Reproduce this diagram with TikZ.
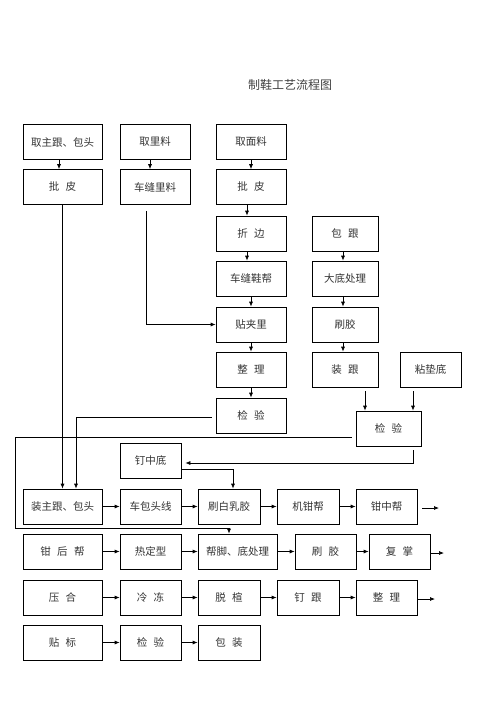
\documentclass[tikz,border=0pt]{standalone}
\usepackage{fontspec}
\setmainfont{Noto Sans CJK SC}
\usepackage{tikz}
\usetikzlibrary{arrows.meta}
\newcommand{\kg}{\hspace{0.6em}}

\begin{document}
\begin{tikzpicture}[x=1pt,y=-1pt,line width=0.7pt,>={Latex[length=5pt,width=4pt]},
  box/.style={draw,minimum height=35pt,inner sep=0pt,font=\fontsize{10.5pt}{12pt}\selectfont,text=black!80},
  wa/.style={box,minimum width=79pt},
  wb/.style={box,minimum width=70pt},
  wc/.style={box,minimum width=61pt}]
  \useasboundingbox (0,0) rectangle (496,702);
  \node[font=\fontsize{12pt}{14pt}\selectfont,text=black!75] (title) at (290,85) {制鞋工艺流程图};
  % upper part
  \node[wa] (qzg) at (62.5,142) {取主跟、包头};
  \node[wb] (qll) at (155,142) {取里料};
  \node[wb] (qml) at (251,142) {取面料};
  \node[wa] (pp1) at (62.5,187) {批\kg 皮};
  \node[wb] (cfll) at (155,187) {车缝里料};
  \node[wb] (pp2) at (251,187) {批\kg 皮};
  \node[wb] (zb) at (251,233.5) {折\kg 边};
  \node[box,minimum width=66pt] (bg) at (345,233.5) {包\kg 跟};
  \node[wb] (cfxb) at (251,278.5) {车缝鞋帮};
  \node[box,minimum width=66pt] (ddcl) at (345,278.5) {大底处理};
  \node[wb] (tjl) at (251,324.5) {贴夹里};
  \node[box,minimum width=66pt] (sj1) at (345,324.5) {刷胶};
  \node[wb] (zl1) at (251,369.5) {整\kg 理};
  \node[box,minimum width=66pt] (zg) at (345,369.5) {装\kg 跟};
  \node[wc] (ndd) at (430.5,369.5) {粘垫底};
  \node[wb] (jy1) at (251,415.5) {检\kg 验};
  \node[box,minimum width=65pt] (jy2) at (388.5,428.5) {检\kg 验};
  \node[wc] (dzd) at (150.5,460.5) {钉中底};
  % rows
  \node[wa] (zzg) at (62.5,506.5) {装主跟、包头};
  \node[wc] (cbtx) at (150.5,506.5) {车包头线};
  \node[box,minimum width=62pt] (sbrj) at (229,506.5) {刷白乳胶};
  \node[box,minimum width=62pt] (jqb) at (308,506.5) {机钳帮};
  \node[wc] (qzb) at (386.5,506.5) {钳中帮};
  \node[wa] (qhb) at (62.5,551.5) {钳\kg 后\kg 帮};
  \node[wc] (rdx) at (150.5,551.5) {热定型};
  \node[wa] (bjd) at (237.5,551.5) {帮脚、底处理};
  \node[wc] (sj2) at (325.5,551.5) {刷\kg 胶};
  \node[wc] (fz) at (399.5,551.5) {复\kg 掌};
  \node[wa] (yh) at (62.5,597.5) {压\kg 合};
  \node[wc] (ld) at (150.5,597.5) {冷\kg 冻};
  \node[box,minimum width=62pt] (tx) at (229,597.5) {脱\kg 楦};
  \node[box,minimum width=62pt] (dg) at (308,597.5) {钉\kg 跟};
  \node[wc] (zl2) at (386.5,597.5) {整\kg 理};
  \node[wa] (tb) at (62.5,642.5) {贴\kg 标};
  \node[wc] (jy3) at (150.5,642.5) {检\kg 验};
  \node[box,minimum width=62pt] (bz) at (229,642.5) {包\kg 装};
  \coordinate (endA) at (439,508);
  \coordinate (endB) at (444,553);
  \coordinate (endC) at (435,599);
  \coordinate (lft) at (15,528);
  % vertical flow
  \draw[->] ([xshift=-3.5]qzg.south) -- ([xshift=-3.5]pp1.north);
  \draw[->] ([xshift=-5]qll.south) -- ([xshift=-5]cfll.north);
  \draw[->] (qml) -- (pp2);
  \draw[->] ([xshift=-4]pp2.south) -- ([xshift=-4]zb.north);
  \draw[->] ([xshift=-4]zb.south) -- ([xshift=-4]cfxb.north);
  \draw[->] (cfxb) -- (tjl);
  \draw[->] (tjl) -- (zl1);
  \draw[->] (zl1) -- (jy1);
  \draw[->] ([xshift=-2]bg.south) -- ([xshift=-2]ddcl.north);
  \draw[->] ([xshift=-2]ddcl.south) -- ([xshift=-2]sj1.north);
  \draw[->] ([xshift=-2]sj1.south) -- ([xshift=-2]zg.north);
  \draw[->] ([xshift=20,yshift=-4]zg.south) -- ([xshift=-23.5]jy2.north);
  \draw[->] ([xshift=-17.5,yshift=-4]ndd.south) -- ([xshift=24.5]jy2.north);
  % joining lines
  \draw[->] (pp1) -- (zzg);
  \draw[->] ([xshift=-9,yshift=-6]cfll.south) |- (tjl.west);
  \draw[->] ([xshift=-4,yshift=-1.5]jy1.west) -| ([xshift=13.5]zzg.north);
  \draw[->] ([xshift=-4,yshift=-8.5]jy2.west) -| (lft) -| ([xshift=-8.5]bjd.north);
  \draw[->] ([xshift=24.5,yshift=-4]jy2.south) |- ([xshift=4,yshift=-2.5]dzd.east);
  \draw[->] ([yshift=-8.5]dzd.east) -| ([xshift=4]sbrj.north);
  % horizontal flow
  \draw[->] (zzg) -- (cbtx);
  \draw[->] (cbtx) -- (sbrj);
  \draw[->] (sbrj) -- (jqb);
  \draw[->] (jqb) -- (qzb);
  \draw[->] ([xshift=5,yshift=-1.5]qzb.east) -- (endA);
  \draw[->] (qhb) -- (rdx);
  \draw[->] (rdx) -- (bjd);
  \draw[->] (bjd) -- (sj2);
  \draw[->] (sj2) -- (fz);
  \draw[->] ([yshift=-1.5]fz.east) -- (endB);
  \draw[->] (yh) -- (ld);
  \draw[->] (ld) -- (tx);
  \draw[->] (tx) -- (dg);
  \draw[->] (dg) -- (zl2);
  \draw[->] ([yshift=-1.5]zl2.east) -- (endC);
  \draw[->] (tb) -- (jy3);
  \draw[->] (jy3) -- (bz);
\end{tikzpicture}
\end{document}
